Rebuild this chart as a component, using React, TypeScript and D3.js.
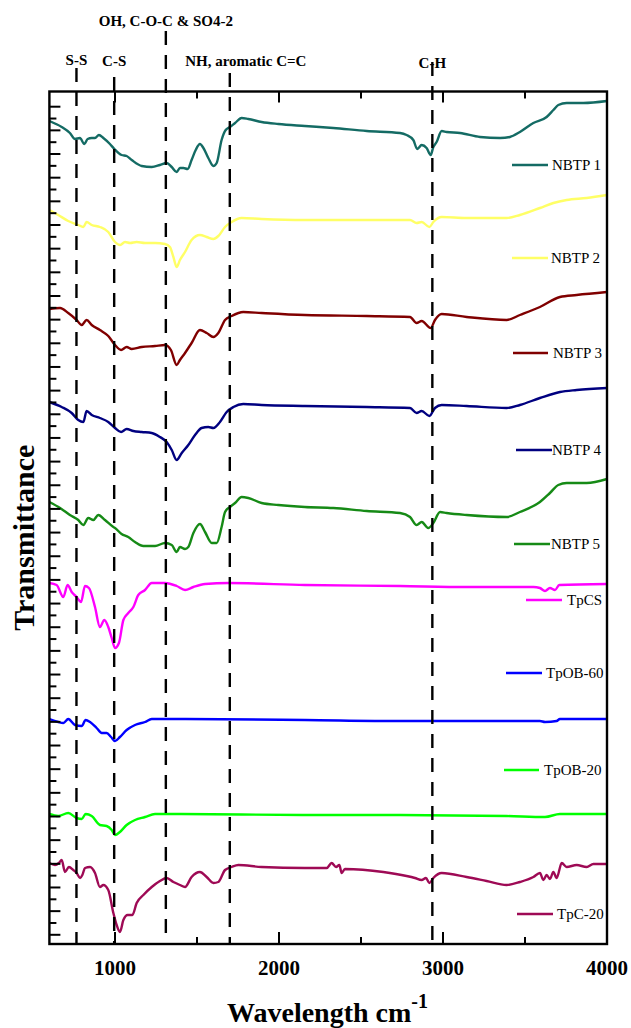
import React from "react";
import * as d3 from "d3";

// ---------- DATA ----------
const seriesNames = ["NBTP 1", "NBTP 2", "NBTP 3", "NBTP 4", "NBTP 5", "TpCS", "TpOB-60", "TpOB-20", "TpC-20"];

type P = [number, number];

const nbtp1: P[] = [
  [600, 823], [675, 817], [725, 811], [756, 805], [786, 806], [813, 800], [833, 805], [858, 806], [878, 806],
  [902, 809], [929, 806], [969, 800], [996, 795], [1040, 789], [1071, 788], [1102, 784], [1163, 778], [1224, 777],
  [1274, 779], [1315, 781], [1346, 777], [1376, 772], [1396, 776], [1417, 776], [1443, 775], [1467, 784],
  [1492, 794], [1518, 800], [1539, 796], [1569, 786], [1600, 778], [1620, 781], [1650, 804], [1675, 814],
  [1701, 817], [1732, 821], [1772, 826], [1813, 825], [1894, 822], [1996, 820], [2158, 818], [2331, 816],
  [2535, 813], [2738, 811], [2778, 809], [2819, 804], [2843, 795], [2870, 799], [2900, 796], [2925, 789],
  [2941, 797], [2961, 802], [2992, 813], [3022, 812], [3104, 811], [3226, 807], [3348, 806], [3408, 807],
  [3469, 812], [3551, 821], [3632, 827], [3673, 834], [3703, 839], [3754, 841], [3856, 841], [4000, 843],
];

const nbtp2: P[] = [
  [600, 734], [654, 729], [715, 723], [776, 719], [807, 717], [827, 722], [858, 719], [908, 717], [959, 712],
  [1000, 702], [1031, 699], [1061, 702], [1092, 701], [1132, 702], [1183, 701], [1244, 701], [1305, 700],
  [1335, 697], [1356, 687], [1376, 677], [1396, 684], [1427, 692], [1467, 704], [1518, 709], [1559, 707],
  [1600, 705], [1630, 708], [1671, 717], [1711, 722], [1772, 726], [1894, 725], [2158, 724], [2535, 724],
  [2799, 724], [2839, 721], [2870, 722], [2917, 717], [2941, 722], [2992, 727], [3144, 726], [3388, 726],
  [3469, 729], [3591, 736], [3673, 741], [3754, 744], [3876, 746], [4000, 749],
];

const nbtp3: P[] = [
  [600, 635], [665, 636], [715, 631], [766, 624], [797, 619], [827, 624], [858, 619], [908, 614], [959, 608],
  [1000, 599], [1037, 594], [1071, 597], [1102, 595], [1163, 597], [1244, 598], [1305, 599], [1341, 594],
  [1376, 579], [1396, 584], [1427, 591], [1467, 601], [1518, 614], [1559, 611], [1600, 607], [1630, 611],
  [1671, 624], [1711, 628], [1782, 632], [1894, 631], [2158, 629], [2535, 628], [2799, 627], [2839, 621],
  [2870, 623], [2925, 616], [2951, 624], [2992, 630], [3144, 627], [3388, 624], [3469, 629], [3591, 637],
  [3713, 647], [3815, 649], [4000, 652],
];

const nbtp4: P[] = [
  [600, 542], [675, 537], [736, 531], [776, 524], [807, 522], [827, 533], [858, 529], [908, 526], [959, 522],
  [1000, 516], [1037, 512], [1071, 515], [1112, 513], [1163, 512], [1224, 511], [1274, 507], [1315, 502],
  [1346, 494], [1376, 484], [1407, 491], [1447, 499], [1488, 509], [1528, 516], [1569, 517], [1600, 516],
  [1640, 522], [1681, 532], [1722, 537], [1782, 540], [1894, 539], [2158, 538], [2535, 537], [2799, 536],
  [2839, 531], [2870, 533], [2917, 528], [2951, 536], [2992, 539], [3144, 538], [3388, 536], [3469, 539],
  [3591, 546], [3713, 552], [3815, 554], [4000, 556],
];

const nbtp5: P[] = [
  [600, 442], [665, 436], [725, 429], [776, 424], [807, 419], [837, 426], [868, 424], [898, 429], [939, 424],
  [990, 417], [1000, 416], [1040, 410], [1081, 407], [1122, 402], [1173, 398], [1244, 398], [1305, 401],
  [1346, 399], [1376, 392], [1396, 397], [1427, 395], [1447, 397], [1478, 411], [1518, 420], [1549, 412],
  [1590, 401], [1620, 401], [1650, 417], [1671, 432], [1701, 437], [1732, 441], [1772, 447], [1813, 446],
  [1894, 441], [1996, 439], [2158, 437], [2331, 436], [2535, 433], [2738, 431], [2799, 427], [2839, 419],
  [2870, 422], [2910, 416], [2941, 421], [2982, 432], [3022, 431], [3144, 429], [3388, 427], [3469, 432],
  [3591, 442], [3652, 451], [3703, 459], [3754, 461], [3876, 461], [4000, 465],
];

const tpcs: P[] = [
  [600, 361], [644, 359], [685, 347], [711, 359], [736, 352], [766, 347], [793, 342], [817, 358], [841, 356],
  [878, 337], [908, 317], [935, 324], [959, 317], [980, 306], [1000, 296], [1024, 301], [1051, 324],
  [1081, 331], [1112, 337], [1142, 349], [1183, 354], [1224, 361], [1305, 361], [1376, 358], [1427, 354],
  [1478, 357], [1549, 360], [1691, 361], [2158, 359], [2738, 358], [3144, 357], [3388, 357], [3551, 357],
  [3591, 356], [3622, 353], [3652, 356], [3683, 354], [3709, 359], [4000, 360],
];

const tpob60: P[] = [
  [600, 225], [654, 222], [685, 221], [715, 225], [756, 219], [797, 218], [821, 224], [848, 222], [888, 216],
  [919, 211], [949, 211], [976, 207], [1000, 203], [1030, 207], [1071, 214], [1122, 219], [1183, 222],
  [1224, 225], [1386, 225], [2158, 224], [2738, 223], [3388, 223], [3591, 223], [3622, 222], [3693, 223],
  [3713, 225], [4000, 225],
];

const tpob20: P[] = [
  [600, 130], [654, 128], [715, 131], [766, 126], [797, 125], [821, 130], [858, 128], [908, 119], [949, 118],
  [980, 114], [1000, 109], [1030, 112], [1071, 119], [1122, 124], [1183, 127], [1244, 130], [1386, 130],
  [2158, 129], [2738, 129], [3388, 128], [3622, 127], [3713, 130], [4000, 130],
];

const tpc20: P[] = [
  [600, 81], [634, 79], [658, 81], [675, 84], [695, 72], [719, 77], [746, 74], [766, 71], [787, 66], [801, 69],
  [817, 76], [848, 77], [878, 71], [908, 57], [929, 59], [959, 54], [990, 31], [1010, 19], [1030, 12],
  [1051, 24], [1077, 29], [1106, 29], [1132, 41], [1173, 49], [1224, 57], [1274, 63], [1315, 66], [1356, 62],
  [1396, 59], [1427, 57], [1467, 67], [1518, 72], [1559, 67], [1600, 61], [1630, 62], [1671, 74], [1711, 77],
  [1752, 79], [1894, 77], [2158, 76], [2291, 76], [2321, 81], [2348, 77], [2368, 79], [2382, 71], [2402, 75],
  [2636, 72], [2778, 68], [2829, 66], [2870, 64], [2896, 66], [2917, 61], [2941, 66], [2992, 71], [3144, 67],
  [3266, 63], [3388, 59], [3469, 62], [3551, 67], [3591, 71], [3612, 64], [3632, 69], [3652, 65], [3673, 72],
  [3693, 66], [3724, 81], [3754, 77], [3815, 79], [3876, 77], [3917, 80], [4000, 80],
];

const seriesData: P[][] = [nbtp1, nbtp2, nbtp3, nbtp4, nbtp5, tpcs, tpob60, tpob20, tpc20];

const bandWavenumbers = [765, 995, 1310, 1700, 2935];
const bandLabels = ["S-S", "C-S", "OH, C-O-C & SO4-2", "NH, aromatic C=C", "C-H"];

const xMajorTicks = [1000, 2000, 3000, 4000];
const xMinorTicks = [1500, 2500, 3500];

// ---------- STYLE / LAYOUT ----------
const W = 631, H = 1028;
const PL = 49.4, PR = 607, PT = 91.5, PB = 944;
const colors = ["#146b64", "#ffff66", "#800000", "#000080", "#168a16", "#ff00ff", "#0000ff", "#00ff00", "#9e0a55"];
const legendLayout = [
  { x1: 512, x2: 548, y: 165, tx: 552 },
  { x1: 512, x2: 548, y: 258, tx: 551 },
  { x1: 513, x2: 548, y: 353, tx: 553 },
  { x1: 516, x2: 552, y: 450, tx: 552 },
  { x1: 514, x2: 550, y: 544, tx: 551 },
  { x1: 526, x2: 562, y: 600, tx: 567 },
  { x1: 506, x2: 542, y: 673, tx: 546 },
  { x1: 504, x2: 539, y: 770, tx: 544 },
  { x1: 517, x2: 553, y: 914, tx: 557 },
];
const bandLabelLayout = [
  { y: 60, anchor: "middle", dx: 0, lineTop: 68 },
  { y: 61, anchor: "middle", dx: 0, lineTop: 77 },
  { y: 21, anchor: "middle", dx: 0, lineTop: 31 },
  { y: 61, anchor: "middle", dx: 16, lineTop: 73 },
  { y: 63, anchor: "middle", dx: 0, lineTop: 62 },
];
const FONT = "'Liberation Serif', 'Times New Roman', serif";

export default function App() {
  const x = d3.scaleLinear().domain([600, 4000]).range([PL, PR]);
  const y = d3.scaleLinear().domain([0, 852.5]).range([PB, PT]);
  const line = d3
    .line<P>()
    .x((d) => x(d[0]))
    .y((d) => y(d[1]))
    .curve(d3.curveMonotoneX);

  const yTickVals = d3.range(0, 71).map((k) => 837.3 - k * 11.83);

  return (
    <svg width={W} height={H} style={{ display: "block", position: "absolute", left: 0, top: 0 }} fontFamily={FONT}>
      <rect x={0} y={0} width={W} height={H} fill="#fff" />
      {/* series */}
      {seriesData.map((s, i) => (
        <path key={i} d={line(s) || ""} fill="none" stroke={colors[i]} strokeWidth={2.4} strokeLinejoin="round" />
      ))}
      {/* band lines */}
      {bandWavenumbers.map((w, i) => (
        <line
          key={"b" + i}
          x1={x(w)}
          x2={x(w)}
          y1={bandLabelLayout[i].lineTop}
          y2={PB}
          stroke="#000"
          strokeWidth={2.4}
          strokeDasharray="14,10"
        />
      ))}
      {bandLabels.map((t, i) => (
        <text
          key={"bl" + i}
          x={x(bandWavenumbers[i]) + bandLabelLayout[i].dx}
          y={bandLabelLayout[i].y}
          textAnchor={bandLabelLayout[i].anchor as any}
          dominantBaseline="central"
          fontSize={15}
          fontWeight="bold"
          fill="#000"
        >
          {t}
        </text>
      ))}
      {/* legend */}
      {seriesNames.map((n, i) => (
        <g key={"lg" + i}>
          <line x1={legendLayout[i].x1} x2={legendLayout[i].x2} y1={legendLayout[i].y} y2={legendLayout[i].y} stroke={colors[i]} strokeWidth={2.6} />
          <text x={legendLayout[i].tx} y={legendLayout[i].y} dominantBaseline="central" fontSize={15} fill="#000">
            {n}
          </text>
        </g>
      ))}
      {/* frame */}
      <rect x={PL} y={PT} width={PR - PL} height={PB - PT} fill="none" stroke="#000" strokeWidth={2.4} />
      {/* x ticks bottom & top */}
      {xMajorTicks.map((t) => (
        <g key={"xt" + t}>
          <line x1={x(t)} x2={x(t)} y1={PB} y2={PB - 12} stroke="#000" strokeWidth={2} />
          <line x1={x(t)} x2={x(t)} y1={PT} y2={PT + 11} stroke="#000" strokeWidth={2} />
          <text x={x(t)} y={975} textAnchor="middle" fontSize={21} fontWeight="bold">
            {t}
          </text>
        </g>
      ))}
      {xMinorTicks.map((t) => (
        <g key={"xm" + t}>
          <line x1={x(t)} x2={x(t)} y1={PB} y2={PB - 7} stroke="#000" strokeWidth={2} />
          <line x1={x(t)} x2={x(t)} y1={PT} y2={PT + 7} stroke="#000" strokeWidth={2} />
        </g>
      ))}
      {/* y ticks */}
      {yTickVals.map((v, k) => (
        <line key={"yt" + k} x1={PL} x2={PL + (k % 2 === 0 ? 11 : 7)} y1={y(v)} y2={y(v)} stroke="#000" strokeWidth={2} />
      ))}
      {/* axis titles */}
      <text
        transform={`translate(23, ${(PT + PB) / 2 + 20}) rotate(-90)`}
        textAnchor="middle"
        dominantBaseline="central"
        fontSize={30}
        fontWeight="bold"
      >
        Transmittance
      </text>
      <text x={227} y={1022} fontSize={28} fontWeight="bold">
        Wavelength cm
        <tspan fontSize={20} dy={-14}>-1</tspan>
      </text>
    </svg>
  );
}
